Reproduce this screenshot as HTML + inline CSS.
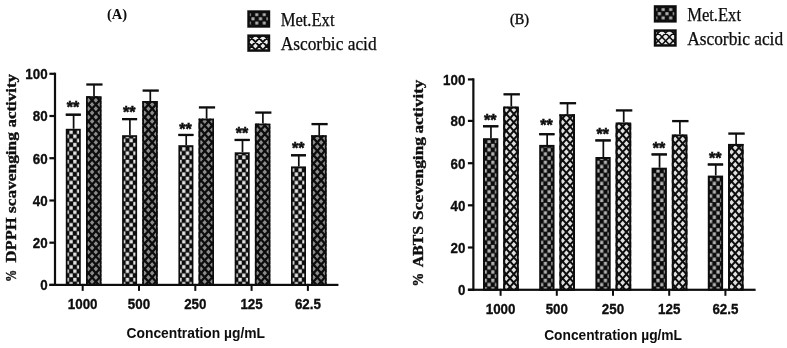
<!DOCTYPE html>
<html lang="en"><head><meta charset="utf-8"><title>Scavenging activity charts</title>
<style>html,body{margin:0;padding:0;background:#fff}svg{display:block}.num{font-family:"Liberation Sans", sans-serif;font-weight:bold;font-size:15.3px;fill:#0a0a0a;stroke:#0a0a0a;stroke-width:0.3px}.xl{font-family:"Liberation Sans", sans-serif;font-weight:bold;font-size:15.4px;fill:#0a0a0a}.yl{font-family:"Liberation Serif", serif;font-weight:bold;font-size:15.6px;fill:#0a0a0a;stroke:#0a0a0a;stroke-width:0.35px}.ttl{font-family:"Liberation Serif", serif;font-weight:bold;font-size:15.5px;fill:#0a0a0a}.lg{font-family:"Liberation Serif", serif;font-size:18px;fill:#0a0a0a;stroke:#0a0a0a;stroke-width:0.25px}.st{font-family:"Liberation Sans", sans-serif;font-weight:bold;font-size:16px;fill:#0a0a0a;stroke:#0a0a0a;stroke-width:0.5px}</style></head><body>
<svg width="787" height="348" viewBox="0 0 787 348">
<defs>
<pattern id="ckL" x="69.22" y="129.99" width="7.51" height="8.43" patternUnits="userSpaceOnUse"><rect width="7.51" height="8.43" fill="#0c0c0c"/><rect x="0.25" y="0.28" width="3.25" height="3.65" fill="#e6e6e6"/><rect x="4.01" y="4.5" width="3.25" height="3.65" fill="#e6e6e6"/></pattern>
<pattern id="ckR" x="487.17" y="265.69" width="7.51" height="8.43" patternUnits="userSpaceOnUse"><rect width="7.51" height="8.43" fill="#0c0c0c"/><rect x="0.33" y="0.36" width="3.1" height="3.5" fill="#b4b4b4"/><rect x="4.08" y="4.57" width="3.1" height="3.5" fill="#b4b4b4"/></pattern>
<pattern id="ckG1" x="254.88" y="12.5" width="7.5" height="8.4" patternUnits="userSpaceOnUse"><rect width="7.5" height="8.4" fill="#0c0c0c"/><rect x="0.38" y="0.6" width="3" height="3" fill="#b0b0b0"/><rect x="4.12" y="4.8" width="3" height="3" fill="#b0b0b0"/></pattern>
<pattern id="ckG2" x="661.33" y="7.4" width="7.5" height="8.4" patternUnits="userSpaceOnUse"><rect width="7.5" height="8.4" fill="#0c0c0c"/><rect x="0.32" y="0.6" width="3.1" height="3" fill="#b0b0b0"/><rect x="4.08" y="4.8" width="3.1" height="3" fill="#b0b0b0"/></pattern>
<filter id="soft" x="-2%" y="-2%" width="104%" height="104%"><feGaussianBlur stdDeviation="0.45"/></filter>
<clipPath id="cL0"><rect x="86" y="96.2" width="15.4" height="188.7"/></clipPath>
<clipPath id="cR0"><rect x="503.2" y="106.5" width="15.6" height="183.3"/></clipPath>
<clipPath id="cL1"><rect x="142.3" y="101" width="15.4" height="183.9"/></clipPath>
<clipPath id="cR1"><rect x="559.4" y="114.2" width="15.6" height="175.6"/></clipPath>
<clipPath id="cL2"><rect x="198.6" y="118.6" width="15.4" height="166.3"/></clipPath>
<clipPath id="cR2"><rect x="615.6" y="122.5" width="15.6" height="167.3"/></clipPath>
<clipPath id="cL3"><rect x="254.9" y="123.6" width="15.4" height="161.3"/></clipPath>
<clipPath id="cR3"><rect x="671.8" y="134.4" width="15.6" height="155.4"/></clipPath>
<clipPath id="cL4"><rect x="311.2" y="135.2" width="15.4" height="149.7"/></clipPath>
<clipPath id="cR4"><rect x="728" y="143.9" width="15.6" height="145.9"/></clipPath>
<clipPath id="cg1"><rect x="248.3" y="35.4" width="20.9" height="15.4"/></clipPath>
<clipPath id="cg2"><rect x="654.8" y="30.3" width="20.9" height="15.4"/></clipPath>
</defs>
<rect width="787" height="348" fill="#ffffff"/>
<g filter="url(#soft)">
<rect x="66.65" y="129.65" width="13.3" height="155.25" fill="url(#ckL)" stroke="#0c0c0c" stroke-width="1.7"/>
<path d="M73.6 128.8V114.6 M65.8 114.6H80.8" stroke="#0c0c0c" stroke-width="1.7" fill="none"/>
<rect x="65.8" y="113.6" width="15" height="2.3" fill="#0c0c0c"/>
<text class="st" x="73" y="113.2" text-anchor="middle">**</text>
<rect x="86.75" y="96.95" width="13.9" height="187.95" fill="#8c8c8c"/>
<g clip-path="url(#cL0)"><path d="M-76.69 96.2L91.35 284.9 M-69.18 96.2L98.85 284.9 M-61.68 96.2L106.36 284.9 M-54.17 96.2L113.87 284.9 M-46.66 96.2L121.38 284.9 M-39.16 96.2L128.88 284.9 M-31.65 96.2L136.39 284.9 M-24.14 96.2L143.9 284.9 M-16.64 96.2L151.4 284.9 M-9.13 96.2L158.91 284.9 M-1.62 96.2L166.42 284.9 M5.89 96.2L173.92 284.9 M13.39 96.2L181.43 284.9 M20.9 96.2L188.94 284.9 M28.41 96.2L196.45 284.9 M35.91 96.2L203.95 284.9 M43.42 96.2L211.46 284.9 M50.93 96.2L218.97 284.9 M58.43 96.2L226.47 284.9 M65.94 96.2L233.98 284.9 M73.45 96.2L241.49 284.9 M88.23 96.2L-79.81 284.9 M80.96 96.2L248.99 284.9 M95.74 96.2L-72.3 284.9 M88.46 96.2L256.5 284.9 M103.24 96.2L-64.79 284.9 M95.97 96.2L264.01 284.9 M110.75 96.2L-57.29 284.9 M118.26 96.2L-49.78 284.9 M125.77 96.2L-42.27 284.9 M133.27 96.2L-34.77 284.9 M140.78 96.2L-27.26 284.9 M148.29 96.2L-19.75 284.9 M155.79 96.2L-12.25 284.9 M163.3 96.2L-4.74 284.9 M170.81 96.2L2.77 284.9 M178.31 96.2L10.28 284.9 M185.82 96.2L17.78 284.9 M193.33 96.2L25.29 284.9 M200.84 96.2L32.8 284.9 M208.34 96.2L40.3 284.9 M215.85 96.2L47.81 284.9 M223.36 96.2L55.32 284.9 M230.86 96.2L62.82 284.9 M238.37 96.2L70.33 284.9 M245.88 96.2L77.84 284.9 M253.38 96.2L85.35 284.9 M260.89 96.2L92.85 284.9 M268.4 96.2L100.36 284.9" stroke="#0c0c0c" stroke-width="2.3" fill="none"/></g>
<rect x="86.85" y="97.05" width="13.7" height="187.85" fill="none" stroke="#0c0c0c" stroke-width="1.7"/>
<path d="M94 96.2V84.5" stroke="#0c0c0c" stroke-width="1.7" fill="none"/>
<rect x="86.3" y="83.35" width="16.2" height="2.3" fill="#0c0c0c"/>
<rect x="122.95" y="136.05" width="13.3" height="148.85" fill="url(#ckL)" stroke="#0c0c0c" stroke-width="1.7"/>
<path d="M129.9 135.2V119 M122.1 119H137.1" stroke="#0c0c0c" stroke-width="1.7" fill="none"/>
<rect x="122.1" y="118" width="15" height="2.3" fill="#0c0c0c"/>
<text class="st" x="129.3" y="117.5" text-anchor="middle">**</text>
<rect x="143.05" y="101.75" width="13.9" height="183.15" fill="#8c8c8c"/>
<g clip-path="url(#cL1)"><path d="M-19.87 101L143.9 284.9 M-12.36 101L151.4 284.9 M-4.85 101L158.91 284.9 M2.65 101L166.42 284.9 M10.16 101L173.92 284.9 M17.67 101L181.43 284.9 M25.17 101L188.94 284.9 M32.68 101L196.45 284.9 M40.19 101L203.95 284.9 M47.69 101L211.46 284.9 M55.2 101L218.97 284.9 M62.71 101L226.47 284.9 M70.22 101L233.98 284.9 M77.72 101L241.49 284.9 M85.23 101L248.99 284.9 M92.74 101L256.5 284.9 M100.24 101L264.01 284.9 M107.75 101L271.52 284.9 M115.26 101L279.02 284.9 M122.76 101L286.53 284.9 M130.27 101L294.04 284.9 M137.78 101L301.54 284.9 M144.01 101L-19.75 284.9 M145.29 101L309.05 284.9 M151.52 101L-12.25 284.9 M152.79 101L316.56 284.9 M159.03 101L-4.74 284.9 M166.53 101L2.77 284.9 M174.04 101L10.28 284.9 M181.55 101L17.78 284.9 M189.05 101L25.29 284.9 M196.56 101L32.8 284.9 M204.07 101L40.3 284.9 M211.58 101L47.81 284.9 M219.08 101L55.32 284.9 M226.59 101L62.82 284.9 M234.1 101L70.33 284.9 M241.6 101L77.84 284.9 M249.11 101L85.35 284.9 M256.62 101L92.85 284.9 M264.12 101L100.36 284.9 M271.63 101L107.87 284.9 M279.14 101L115.37 284.9 M286.65 101L122.88 284.9 M294.15 101L130.39 284.9 M301.66 101L137.89 284.9 M309.17 101L145.4 284.9 M316.67 101L152.91 284.9" stroke="#0c0c0c" stroke-width="2.3" fill="none"/></g>
<rect x="143.15" y="101.85" width="13.7" height="183.05" fill="none" stroke="#0c0c0c" stroke-width="1.7"/>
<path d="M150.3 101V90.6" stroke="#0c0c0c" stroke-width="1.7" fill="none"/>
<rect x="142.6" y="89.45" width="16.2" height="2.3" fill="#0c0c0c"/>
<rect x="179.25" y="146.05" width="13.3" height="138.85" fill="url(#ckL)" stroke="#0c0c0c" stroke-width="1.7"/>
<path d="M186.2 145.2V134.8 M178.4 134.8H193.4" stroke="#0c0c0c" stroke-width="1.7" fill="none"/>
<rect x="178.4" y="133.8" width="15" height="2.3" fill="#0c0c0c"/>
<text class="st" x="185.6" y="134.8" text-anchor="middle">**</text>
<rect x="199.35" y="119.35" width="13.9" height="165.55" fill="#8c8c8c"/>
<g clip-path="url(#cL2)"><path d="M55.86 118.6L203.95 284.9 M63.37 118.6L211.46 284.9 M70.87 118.6L218.97 284.9 M78.38 118.6L226.47 284.9 M85.89 118.6L233.98 284.9 M93.4 118.6L241.49 284.9 M100.9 118.6L248.99 284.9 M108.41 118.6L256.5 284.9 M115.92 118.6L264.01 284.9 M123.42 118.6L271.52 284.9 M130.93 118.6L279.02 284.9 M138.44 118.6L286.53 284.9 M145.94 118.6L294.04 284.9 M153.45 118.6L301.54 284.9 M160.96 118.6L309.05 284.9 M168.47 118.6L316.56 284.9 M175.97 118.6L324.06 284.9 M183.48 118.6L331.57 284.9 M190.99 118.6L339.08 284.9 M198.49 118.6L346.59 284.9 M206 118.6L354.09 284.9 M213.51 118.6L361.6 284.9 M203.41 118.6L55.32 284.9 M210.92 118.6L62.82 284.9 M218.42 118.6L70.33 284.9 M225.93 118.6L77.84 284.9 M233.44 118.6L85.35 284.9 M240.94 118.6L92.85 284.9 M248.45 118.6L100.36 284.9 M255.96 118.6L107.87 284.9 M263.47 118.6L115.37 284.9 M270.97 118.6L122.88 284.9 M278.48 118.6L130.39 284.9 M285.99 118.6L137.89 284.9 M293.49 118.6L145.4 284.9 M301 118.6L152.91 284.9 M308.51 118.6L160.42 284.9 M316.01 118.6L167.92 284.9 M323.52 118.6L175.43 284.9 M331.03 118.6L182.94 284.9 M338.54 118.6L190.44 284.9 M346.04 118.6L197.95 284.9 M353.55 118.6L205.46 284.9 M361.06 118.6L212.96 284.9" stroke="#0c0c0c" stroke-width="2.3" fill="none"/></g>
<rect x="199.45" y="119.45" width="13.7" height="165.45" fill="none" stroke="#0c0c0c" stroke-width="1.7"/>
<path d="M206.6 118.6V107.4" stroke="#0c0c0c" stroke-width="1.7" fill="none"/>
<rect x="198.9" y="106.25" width="16.2" height="2.3" fill="#0c0c0c"/>
<rect x="235.55" y="153.15" width="13.3" height="131.75" fill="url(#ckL)" stroke="#0c0c0c" stroke-width="1.7"/>
<path d="M242.5 152.3V139.8 M234.7 139.8H249.7" stroke="#0c0c0c" stroke-width="1.7" fill="none"/>
<rect x="234.7" y="138.8" width="15" height="2.3" fill="#0c0c0c"/>
<text class="st" x="241.9" y="139" text-anchor="middle">**</text>
<rect x="255.65" y="124.35" width="13.9" height="160.55" fill="#8c8c8c"/>
<g clip-path="url(#cL3)"><path d="M112.86 123.6L256.5 284.9 M120.37 123.6L264.01 284.9 M127.88 123.6L271.52 284.9 M135.38 123.6L279.02 284.9 M142.89 123.6L286.53 284.9 M150.4 123.6L294.04 284.9 M157.9 123.6L301.54 284.9 M165.41 123.6L309.05 284.9 M172.92 123.6L316.56 284.9 M180.43 123.6L324.06 284.9 M187.93 123.6L331.57 284.9 M195.44 123.6L339.08 284.9 M202.95 123.6L346.59 284.9 M210.45 123.6L354.09 284.9 M217.96 123.6L361.6 284.9 M225.47 123.6L369.11 284.9 M232.97 123.6L376.61 284.9 M240.48 123.6L384.12 284.9 M247.99 123.6L391.63 284.9 M255.5 123.6L399.13 284.9 M263 123.6L406.64 284.9 M270.51 123.6L414.15 284.9 M259.01 123.6L115.37 284.9 M266.52 123.6L122.88 284.9 M274.03 123.6L130.39 284.9 M281.53 123.6L137.89 284.9 M289.04 123.6L145.4 284.9 M296.55 123.6L152.91 284.9 M304.05 123.6L160.42 284.9 M311.56 123.6L167.92 284.9 M319.07 123.6L175.43 284.9 M326.58 123.6L182.94 284.9 M334.08 123.6L190.44 284.9 M341.59 123.6L197.95 284.9 M349.1 123.6L205.46 284.9 M356.6 123.6L212.96 284.9 M364.11 123.6L220.47 284.9 M371.62 123.6L227.98 284.9 M379.12 123.6L235.49 284.9 M386.63 123.6L242.99 284.9 M394.14 123.6L250.5 284.9 M401.65 123.6L258.01 284.9 M409.15 123.6L265.51 284.9" stroke="#0c0c0c" stroke-width="2.3" fill="none"/></g>
<rect x="255.75" y="124.45" width="13.7" height="160.45" fill="none" stroke="#0c0c0c" stroke-width="1.7"/>
<path d="M262.9 123.6V112.6" stroke="#0c0c0c" stroke-width="1.7" fill="none"/>
<rect x="255.2" y="111.45" width="16.2" height="2.3" fill="#0c0c0c"/>
<rect x="291.85" y="167.25" width="13.3" height="117.65" fill="url(#ckL)" stroke="#0c0c0c" stroke-width="1.7"/>
<path d="M298.8 166.4V155.2 M291 155.2H306" stroke="#0c0c0c" stroke-width="1.7" fill="none"/>
<rect x="291" y="154.2" width="15" height="2.3" fill="#0c0c0c"/>
<text class="st" x="298.2" y="154.4" text-anchor="middle">**</text>
<rect x="311.95" y="135.95" width="13.9" height="148.95" fill="#8c8c8c"/>
<g clip-path="url(#cL4)"><path d="M183.25 135.2L316.56 284.9 M190.76 135.2L324.06 284.9 M198.26 135.2L331.57 284.9 M205.77 135.2L339.08 284.9 M213.28 135.2L346.59 284.9 M220.78 135.2L354.09 284.9 M228.29 135.2L361.6 284.9 M235.8 135.2L369.11 284.9 M243.3 135.2L376.61 284.9 M250.81 135.2L384.12 284.9 M258.32 135.2L391.63 284.9 M265.83 135.2L399.13 284.9 M273.33 135.2L406.64 284.9 M280.84 135.2L414.15 284.9 M288.35 135.2L421.66 284.9 M295.85 135.2L429.16 284.9 M303.36 135.2L436.67 284.9 M310.87 135.2L444.18 284.9 M318.37 135.2L451.68 284.9 M325.88 135.2L459.19 284.9 M316.25 135.2L182.94 284.9 M323.75 135.2L190.44 284.9 M331.26 135.2L197.95 284.9 M338.77 135.2L205.46 284.9 M346.27 135.2L212.96 284.9 M353.78 135.2L220.47 284.9 M361.29 135.2L227.98 284.9 M368.79 135.2L235.49 284.9 M376.3 135.2L242.99 284.9 M383.81 135.2L250.5 284.9 M391.32 135.2L258.01 284.9 M398.82 135.2L265.51 284.9 M406.33 135.2L273.02 284.9 M413.84 135.2L280.53 284.9 M421.34 135.2L288.03 284.9 M428.85 135.2L295.54 284.9 M436.36 135.2L303.05 284.9 M443.86 135.2L310.56 284.9 M451.37 135.2L318.06 284.9 M458.88 135.2L325.57 284.9" stroke="#0c0c0c" stroke-width="2.3" fill="none"/></g>
<rect x="312.05" y="136.05" width="13.7" height="148.85" fill="none" stroke="#0c0c0c" stroke-width="1.7"/>
<path d="M319.2 135.2V124.1" stroke="#0c0c0c" stroke-width="1.7" fill="none"/>
<rect x="311.5" y="122.95" width="16.2" height="2.3" fill="#0c0c0c"/>
<rect x="53.9" y="72.7" width="2.2" height="213.3" fill="#0c0c0c"/>
<rect x="49.4" y="283.8" width="289" height="2.2" fill="#0c0c0c"/>
<rect x="49.4" y="72.7" width="5.6" height="2.2" fill="#0c0c0c"/>
<text class="num" x="25.3" y="79.1" textLength="22.3" lengthAdjust="spacingAndGlyphs">100</text>
<rect x="49.4" y="114.9" width="5.6" height="2.2" fill="#0c0c0c"/>
<text class="num" x="32.73" y="121.3" textLength="14.87" lengthAdjust="spacingAndGlyphs">80</text>
<rect x="49.4" y="157.1" width="5.6" height="2.2" fill="#0c0c0c"/>
<text class="num" x="32.73" y="163.5" textLength="14.87" lengthAdjust="spacingAndGlyphs">60</text>
<rect x="49.4" y="199.4" width="5.6" height="2.2" fill="#0c0c0c"/>
<text class="num" x="32.73" y="205.8" textLength="14.87" lengthAdjust="spacingAndGlyphs">40</text>
<rect x="49.4" y="241.6" width="5.6" height="2.2" fill="#0c0c0c"/>
<text class="num" x="32.73" y="248" textLength="14.87" lengthAdjust="spacingAndGlyphs">20</text>
<rect x="49.4" y="283.8" width="5.6" height="2.2" fill="#0c0c0c"/>
<text class="num" x="40.17" y="290.2" textLength="7.43" lengthAdjust="spacingAndGlyphs">0</text>
<rect x="81.7" y="283.9" width="2" height="7" fill="#0c0c0c"/>
<text class="num" x="67.83" y="308.5" textLength="29.73" lengthAdjust="spacingAndGlyphs">1000</text>
<rect x="138" y="283.9" width="2" height="7" fill="#0c0c0c"/>
<text class="num" x="127.85" y="308.5" textLength="22.3" lengthAdjust="spacingAndGlyphs">500</text>
<rect x="194.3" y="283.9" width="2" height="7" fill="#0c0c0c"/>
<text class="num" x="184.15" y="308.5" textLength="22.3" lengthAdjust="spacingAndGlyphs">250</text>
<rect x="250.6" y="283.9" width="2" height="7" fill="#0c0c0c"/>
<text class="num" x="240.45" y="308.5" textLength="22.3" lengthAdjust="spacingAndGlyphs">125</text>
<rect x="306.9" y="283.9" width="2" height="7" fill="#0c0c0c"/>
<text class="num" x="294.89" y="308.5" textLength="26.02" lengthAdjust="spacingAndGlyphs">62.5</text>
<rect x="484" y="139.2" width="13.3" height="150.6" fill="url(#ckR)" stroke="#0c0c0c" stroke-width="2"/>
<path d="M490.95 138.2V126.2 M483 126.2H498.3" stroke="#0c0c0c" stroke-width="1.7" fill="none"/>
<rect x="483" y="125.2" width="15.3" height="2.3" fill="#0c0c0c"/>
<text class="st" x="490.35" y="125.6" text-anchor="middle">**</text>
<rect x="503.95" y="107.25" width="14.1" height="182.55" fill="#e0e0e0"/>
<g clip-path="url(#cR0)"><path d="M341.97 106.5L505.2 289.8 M349.48 106.5L512.71 289.8 M356.98 106.5L520.22 289.8 M364.49 106.5L527.72 289.8 M372 106.5L535.23 289.8 M379.51 106.5L542.74 289.8 M387.01 106.5L550.24 289.8 M394.52 106.5L557.75 289.8 M402.03 106.5L565.26 289.8 M409.53 106.5L572.76 289.8 M417.04 106.5L580.27 289.8 M424.55 106.5L587.78 289.8 M432.05 106.5L595.29 289.8 M439.56 106.5L602.79 289.8 M447.07 106.5L610.3 289.8 M454.58 106.5L617.81 289.8 M462.08 106.5L625.31 289.8 M469.59 106.5L632.82 289.8 M477.1 106.5L640.33 289.8 M484.6 106.5L647.83 289.8 M492.11 106.5L655.34 289.8 M505.47 106.5L342.24 289.8 M499.62 106.5L662.85 289.8 M512.98 106.5L349.74 289.8 M507.12 106.5L670.36 289.8 M520.48 106.5L357.25 289.8 M514.63 106.5L677.86 289.8 M527.99 106.5L364.76 289.8 M535.5 106.5L372.27 289.8 M543 106.5L379.77 289.8 M550.51 106.5L387.28 289.8 M558.02 106.5L394.79 289.8 M565.52 106.5L402.29 289.8 M573.03 106.5L409.8 289.8 M580.54 106.5L417.31 289.8 M588.05 106.5L424.81 289.8 M595.55 106.5L432.32 289.8 M603.06 106.5L439.83 289.8 M610.57 106.5L447.34 289.8 M618.07 106.5L454.84 289.8 M625.58 106.5L462.35 289.8 M633.09 106.5L469.86 289.8 M640.59 106.5L477.36 289.8 M648.1 106.5L484.87 289.8 M655.61 106.5L492.38 289.8 M663.12 106.5L499.88 289.8 M670.62 106.5L507.39 289.8 M678.13 106.5L514.9 289.8" stroke="#0c0c0c" stroke-width="2.0" fill="none"/></g>
<rect x="504.2" y="107.5" width="13.6" height="182.3" fill="none" stroke="#0c0c0c" stroke-width="2"/>
<path d="M511.3 106.5V94.3" stroke="#0c0c0c" stroke-width="1.7" fill="none"/>
<rect x="503.5" y="93.15" width="16.4" height="2.3" fill="#0c0c0c"/>
<rect x="540.2" y="145.9" width="13.3" height="143.9" fill="url(#ckR)" stroke="#0c0c0c" stroke-width="2"/>
<path d="M547.15 144.9V134.1 M539.2 134.1H554.5" stroke="#0c0c0c" stroke-width="1.7" fill="none"/>
<rect x="539.2" y="133.1" width="15.3" height="2.3" fill="#0c0c0c"/>
<text class="st" x="546.55" y="130.9" text-anchor="middle">**</text>
<rect x="560.15" y="114.95" width="14.1" height="174.85" fill="#e0e0e0"/>
<g clip-path="url(#cR1)"><path d="M401.38 114.2L557.75 289.8 M408.88 114.2L565.26 289.8 M416.39 114.2L572.76 289.8 M423.9 114.2L580.27 289.8 M431.4 114.2L587.78 289.8 M438.91 114.2L595.29 289.8 M446.42 114.2L602.79 289.8 M453.93 114.2L610.3 289.8 M461.43 114.2L617.81 289.8 M468.94 114.2L625.31 289.8 M476.45 114.2L632.82 289.8 M483.95 114.2L640.33 289.8 M491.46 114.2L647.83 289.8 M498.97 114.2L655.34 289.8 M506.47 114.2L662.85 289.8 M513.98 114.2L670.36 289.8 M521.49 114.2L677.86 289.8 M529 114.2L685.37 289.8 M536.5 114.2L692.88 289.8 M544.01 114.2L700.38 289.8 M551.52 114.2L707.89 289.8 M559.02 114.2L715.4 289.8 M558.67 114.2L402.29 289.8 M566.53 114.2L722.9 289.8 M566.17 114.2L409.8 289.8 M574.04 114.2L730.41 289.8 M573.68 114.2L417.31 289.8 M581.19 114.2L424.81 289.8 M588.7 114.2L432.32 289.8 M596.2 114.2L439.83 289.8 M603.71 114.2L447.34 289.8 M611.22 114.2L454.84 289.8 M618.72 114.2L462.35 289.8 M626.23 114.2L469.86 289.8 M633.74 114.2L477.36 289.8 M641.24 114.2L484.87 289.8 M648.75 114.2L492.38 289.8 M656.26 114.2L499.88 289.8 M663.77 114.2L507.39 289.8 M671.27 114.2L514.9 289.8 M678.78 114.2L522.41 289.8 M686.29 114.2L529.91 289.8 M693.79 114.2L537.42 289.8 M701.3 114.2L544.93 289.8 M708.81 114.2L552.43 289.8 M716.31 114.2L559.94 289.8 M723.82 114.2L567.45 289.8 M731.33 114.2L574.95 289.8" stroke="#0c0c0c" stroke-width="2.0" fill="none"/></g>
<rect x="560.4" y="115.2" width="13.6" height="174.6" fill="none" stroke="#0c0c0c" stroke-width="2"/>
<path d="M567.5 114.2V103.2" stroke="#0c0c0c" stroke-width="1.7" fill="none"/>
<rect x="559.7" y="102.05" width="16.4" height="2.3" fill="#0c0c0c"/>
<rect x="596.4" y="158" width="13.3" height="131.8" fill="url(#ckR)" stroke="#0c0c0c" stroke-width="2"/>
<path d="M603.35 157V140.3 M595.4 140.3H610.7" stroke="#0c0c0c" stroke-width="1.7" fill="none"/>
<rect x="595.4" y="139.3" width="15.3" height="2.3" fill="#0c0c0c"/>
<text class="st" x="602.75" y="140.1" text-anchor="middle">**</text>
<rect x="616.35" y="123.25" width="14.1" height="166.55" fill="#e0e0e0"/>
<g clip-path="url(#cR2)"><path d="M468.82 122.5L617.81 289.8 M476.33 122.5L625.31 289.8 M483.84 122.5L632.82 289.8 M491.34 122.5L640.33 289.8 M498.85 122.5L647.83 289.8 M506.36 122.5L655.34 289.8 M513.87 122.5L662.85 289.8 M521.37 122.5L670.36 289.8 M528.88 122.5L677.86 289.8 M536.39 122.5L685.37 289.8 M543.89 122.5L692.88 289.8 M551.4 122.5L700.38 289.8 M558.91 122.5L707.89 289.8 M566.41 122.5L715.4 289.8 M573.92 122.5L722.9 289.8 M581.43 122.5L730.41 289.8 M588.94 122.5L737.92 289.8 M596.44 122.5L745.43 289.8 M603.95 122.5L752.93 289.8 M611.46 122.5L760.44 289.8 M618.96 122.5L767.95 289.8 M626.47 122.5L775.45 289.8 M618.84 122.5L469.86 289.8 M626.35 122.5L477.36 289.8 M633.85 122.5L484.87 289.8 M641.36 122.5L492.38 289.8 M648.87 122.5L499.88 289.8 M656.37 122.5L507.39 289.8 M663.88 122.5L514.9 289.8 M671.39 122.5L522.41 289.8 M678.9 122.5L529.91 289.8 M686.4 122.5L537.42 289.8 M693.91 122.5L544.93 289.8 M701.42 122.5L552.43 289.8 M708.92 122.5L559.94 289.8 M716.43 122.5L567.45 289.8 M723.94 122.5L574.95 289.8 M731.44 122.5L582.46 289.8 M738.95 122.5L589.97 289.8 M746.46 122.5L597.48 289.8 M753.97 122.5L604.98 289.8 M761.47 122.5L612.49 289.8 M768.98 122.5L620 289.8 M776.49 122.5L627.5 289.8" stroke="#0c0c0c" stroke-width="2.0" fill="none"/></g>
<rect x="616.6" y="123.5" width="13.6" height="166.3" fill="none" stroke="#0c0c0c" stroke-width="2"/>
<path d="M623.7 122.5V110.4" stroke="#0c0c0c" stroke-width="1.7" fill="none"/>
<rect x="615.9" y="109.25" width="16.4" height="2.3" fill="#0c0c0c"/>
<rect x="652.6" y="168.7" width="13.3" height="121.1" fill="url(#ckR)" stroke="#0c0c0c" stroke-width="2"/>
<path d="M659.55 167.7V154.3 M651.6 154.3H666.9" stroke="#0c0c0c" stroke-width="1.7" fill="none"/>
<rect x="651.6" y="153.3" width="15.3" height="2.3" fill="#0c0c0c"/>
<text class="st" x="658.95" y="154.2" text-anchor="middle">**</text>
<rect x="672.55" y="135.15" width="14.1" height="154.65" fill="#e0e0e0"/>
<g clip-path="url(#cR3)"><path d="M531.97 134.4L670.36 289.8 M539.48 134.4L677.86 289.8 M546.98 134.4L685.37 289.8 M554.49 134.4L692.88 289.8 M562 134.4L700.38 289.8 M569.5 134.4L707.89 289.8 M577.01 134.4L715.4 289.8 M584.52 134.4L722.9 289.8 M592.03 134.4L730.41 289.8 M599.53 134.4L737.92 289.8 M607.04 134.4L745.43 289.8 M614.55 134.4L752.93 289.8 M622.05 134.4L760.44 289.8 M629.56 134.4L767.95 289.8 M637.07 134.4L775.45 289.8 M644.57 134.4L782.96 289.8 M652.08 134.4L790.47 289.8 M659.59 134.4L797.97 289.8 M667.1 134.4L805.48 289.8 M674.6 134.4L812.99 289.8 M682.11 134.4L820.5 289.8 M675.81 134.4L537.42 289.8 M683.31 134.4L544.93 289.8 M690.82 134.4L552.43 289.8 M698.33 134.4L559.94 289.8 M705.83 134.4L567.45 289.8 M713.34 134.4L574.95 289.8 M720.85 134.4L582.46 289.8 M728.35 134.4L589.97 289.8 M735.86 134.4L597.48 289.8 M743.37 134.4L604.98 289.8 M750.88 134.4L612.49 289.8 M758.38 134.4L620 289.8 M765.89 134.4L627.5 289.8 M773.4 134.4L635.01 289.8 M780.9 134.4L642.52 289.8 M788.41 134.4L650.02 289.8 M795.92 134.4L657.53 289.8 M803.42 134.4L665.04 289.8 M810.93 134.4L672.55 289.8 M818.44 134.4L680.05 289.8 M825.95 134.4L687.56 289.8" stroke="#0c0c0c" stroke-width="2.0" fill="none"/></g>
<rect x="672.8" y="135.4" width="13.6" height="154.4" fill="none" stroke="#0c0c0c" stroke-width="2"/>
<path d="M679.9 134.4V121.1" stroke="#0c0c0c" stroke-width="1.7" fill="none"/>
<rect x="672.1" y="119.95" width="16.4" height="2.3" fill="#0c0c0c"/>
<rect x="708.8" y="176.6" width="13.3" height="113.2" fill="url(#ckR)" stroke="#0c0c0c" stroke-width="2"/>
<path d="M715.75 175.6V164.4 M707.8 164.4H723.1" stroke="#0c0c0c" stroke-width="1.7" fill="none"/>
<rect x="707.8" y="163.4" width="15.3" height="2.3" fill="#0c0c0c"/>
<text class="st" x="715.15" y="163.8" text-anchor="middle">**</text>
<rect x="728.75" y="144.65" width="14.1" height="145.15" fill="#e0e0e0"/>
<g clip-path="url(#cR4)"><path d="M600.49 143.9L730.41 289.8 M607.99 143.9L737.92 289.8 M615.5 143.9L745.43 289.8 M623.01 143.9L752.93 289.8 M630.51 143.9L760.44 289.8 M638.02 143.9L767.95 289.8 M645.53 143.9L775.45 289.8 M653.03 143.9L782.96 289.8 M660.54 143.9L790.47 289.8 M668.05 143.9L797.97 289.8 M675.56 143.9L805.48 289.8 M683.06 143.9L812.99 289.8 M690.57 143.9L820.5 289.8 M698.08 143.9L828 289.8 M705.58 143.9L835.51 289.8 M713.09 143.9L843.02 289.8 M720.6 143.9L850.52 289.8 M728.1 143.9L858.03 289.8 M735.61 143.9L865.54 289.8 M743.12 143.9L873.04 289.8 M727.4 143.9L597.48 289.8 M734.91 143.9L604.98 289.8 M742.42 143.9L612.49 289.8 M749.92 143.9L620 289.8 M757.43 143.9L627.5 289.8 M764.94 143.9L635.01 289.8 M772.44 143.9L642.52 289.8 M779.95 143.9L650.02 289.8 M787.46 143.9L657.53 289.8 M794.96 143.9L665.04 289.8 M802.47 143.9L672.55 289.8 M809.98 143.9L680.05 289.8 M817.49 143.9L687.56 289.8 M824.99 143.9L695.07 289.8 M832.5 143.9L702.57 289.8 M840.01 143.9L710.08 289.8 M847.51 143.9L717.59 289.8 M855.02 143.9L725.09 289.8 M862.53 143.9L732.6 289.8 M870.03 143.9L740.11 289.8" stroke="#0c0c0c" stroke-width="2.0" fill="none"/></g>
<rect x="729" y="144.9" width="13.6" height="144.9" fill="none" stroke="#0c0c0c" stroke-width="2"/>
<path d="M736.1 143.9V133.6" stroke="#0c0c0c" stroke-width="1.7" fill="none"/>
<rect x="728.3" y="132.45" width="16.4" height="2.3" fill="#0c0c0c"/>
<rect x="472.25" y="78.3" width="2.2" height="212.6" fill="#0c0c0c"/>
<rect x="467.9" y="288.7" width="287.7" height="2.2" fill="#0c0c0c"/>
<rect x="467.9" y="78.3" width="5.45" height="2.2" fill="#0c0c0c"/>
<text class="num" x="443.1" y="84.7" textLength="22.3" lengthAdjust="spacingAndGlyphs">100</text>
<rect x="467.9" y="119.8" width="5.45" height="2.2" fill="#0c0c0c"/>
<text class="num" x="450.53" y="126.2" textLength="14.87" lengthAdjust="spacingAndGlyphs">80</text>
<rect x="467.9" y="162.1" width="5.45" height="2.2" fill="#0c0c0c"/>
<text class="num" x="450.53" y="168.5" textLength="14.87" lengthAdjust="spacingAndGlyphs">60</text>
<rect x="467.9" y="204.2" width="5.45" height="2.2" fill="#0c0c0c"/>
<text class="num" x="450.53" y="210.6" textLength="14.87" lengthAdjust="spacingAndGlyphs">40</text>
<rect x="467.9" y="246.4" width="5.45" height="2.2" fill="#0c0c0c"/>
<text class="num" x="450.53" y="252.8" textLength="14.87" lengthAdjust="spacingAndGlyphs">20</text>
<rect x="467.9" y="288.7" width="5.45" height="2.2" fill="#0c0c0c"/>
<text class="num" x="457.97" y="295.1" textLength="7.43" lengthAdjust="spacingAndGlyphs">0</text>
<rect x="499.6" y="288.8" width="2" height="7" fill="#0c0c0c"/>
<text class="num" x="485.73" y="313.6" textLength="29.73" lengthAdjust="spacingAndGlyphs">1000</text>
<rect x="555.8" y="288.8" width="2" height="7" fill="#0c0c0c"/>
<text class="num" x="545.65" y="313.6" textLength="22.3" lengthAdjust="spacingAndGlyphs">500</text>
<rect x="612" y="288.8" width="2" height="7" fill="#0c0c0c"/>
<text class="num" x="601.85" y="313.6" textLength="22.3" lengthAdjust="spacingAndGlyphs">250</text>
<rect x="668.2" y="288.8" width="2" height="7" fill="#0c0c0c"/>
<text class="num" x="658.05" y="313.6" textLength="22.3" lengthAdjust="spacingAndGlyphs">125</text>
<rect x="724.4" y="288.8" width="2" height="7" fill="#0c0c0c"/>
<text class="num" x="712.39" y="313.6" textLength="26.02" lengthAdjust="spacingAndGlyphs">62.5</text>
<text class="xl" x="126.6" y="337.7" textLength="138.4" lengthAdjust="spacingAndGlyphs">Concentration µg/mL</text>
<text class="xl" x="544.2" y="339.6" textLength="137.8" lengthAdjust="spacingAndGlyphs">Concentration µg/mL</text>
<text class="yl" transform="translate(16.2 282) rotate(-90)" textLength="12.2" lengthAdjust="spacingAndGlyphs">%</text>
<text class="yl" transform="translate(16.2 262.4) rotate(-90)" textLength="45" lengthAdjust="spacingAndGlyphs">DPPH</text>
<text class="yl" transform="translate(16.2 212.9) rotate(-90)" textLength="80.8" lengthAdjust="spacingAndGlyphs">scavenging</text>
<text class="yl" transform="translate(16.2 127.5) rotate(-90)" textLength="53.5" lengthAdjust="spacingAndGlyphs">activity</text>
<text class="yl" transform="translate(422.8 286.5) rotate(-90)" textLength="13.7" lengthAdjust="spacingAndGlyphs">%</text>
<text class="yl" transform="translate(422.8 267.2) rotate(-90)" textLength="41.1" lengthAdjust="spacingAndGlyphs">ABTS</text>
<text class="yl" transform="translate(422.8 219.9) rotate(-90)" textLength="82.9" lengthAdjust="spacingAndGlyphs">Scevenging</text>
<text class="yl" transform="translate(422.8 133.5) rotate(-90)" textLength="53.8" lengthAdjust="spacingAndGlyphs">activity</text>
<text class="ttl" x="106.9" y="19.0" textLength="20.2" lengthAdjust="spacingAndGlyphs">(A)</text>
<text class="ttl" x="509.9" y="24.4" textLength="19.0" lengthAdjust="spacingAndGlyphs" style="font-weight:normal;stroke:#0a0a0a;stroke-width:0.4px">(B)</text>
<rect x="248.3" y="11.3" width="20.9" height="15.4" fill="url(#ckG1)"/>
<rect x="248.55" y="11.55" width="20.4" height="14.9" fill="none" stroke="#0c0c0c" stroke-width="2.5"/>
<rect x="248.3" y="35.4" width="20.9" height="15.4" fill="#ececec"/>
<g clip-path="url(#cg1)"><path d="M233.3 34.4L249.82 51.8 M247.79 34.4L231.27 51.8 M240.75 34.4L257.27 51.8 M255.24 34.4L238.72 51.8 M248.2 34.4L264.72 51.8 M262.69 34.4L246.17 51.8 M255.65 34.4L272.17 51.8 M270.14 34.4L253.62 51.8 M263.1 34.4L279.62 51.8 M277.59 34.4L261.07 51.8 M270.55 34.4L287.07 51.8 M285.04 34.4L268.52 51.8" stroke="#0c0c0c" stroke-width="1.9" fill="none"/></g>
<rect x="248.55" y="35.65" width="20.4" height="14.9" fill="none" stroke="#0c0c0c" stroke-width="2.5"/>
<text class="lg" x="280.7" y="25.9" textLength="53.8" lengthAdjust="spacingAndGlyphs">Met.Ext</text>
<text class="lg" x="280.7" y="50.1" textLength="95.9" lengthAdjust="spacingAndGlyphs">Ascorbic acid</text>
<rect x="654.8" y="6.2" width="20.9" height="15.4" fill="url(#ckG2)"/>
<rect x="655.05" y="6.45" width="20.4" height="14.9" fill="none" stroke="#0c0c0c" stroke-width="2.5"/>
<rect x="654.8" y="30.3" width="20.9" height="15.4" fill="#ececec"/>
<g clip-path="url(#cg2)"><path d="M639.8 29.3L656.32 46.7 M654.29 29.3L637.77 46.7 M647.25 29.3L663.77 46.7 M661.74 29.3L645.22 46.7 M654.7 29.3L671.22 46.7 M669.19 29.3L652.67 46.7 M662.15 29.3L678.67 46.7 M676.64 29.3L660.12 46.7 M669.6 29.3L686.12 46.7 M684.09 29.3L667.57 46.7 M677.05 29.3L693.57 46.7 M691.54 29.3L675.02 46.7" stroke="#0c0c0c" stroke-width="1.5" fill="none"/></g>
<rect x="655.05" y="30.55" width="20.4" height="14.9" fill="none" stroke="#0c0c0c" stroke-width="2.5"/>
<text class="lg" x="687.2" y="20.8" textLength="53.8" lengthAdjust="spacingAndGlyphs">Met.Ext</text>
<text class="lg" x="687.2" y="45" textLength="95.9" lengthAdjust="spacingAndGlyphs">Ascorbic acid</text>
</g>
</svg></body></html>
